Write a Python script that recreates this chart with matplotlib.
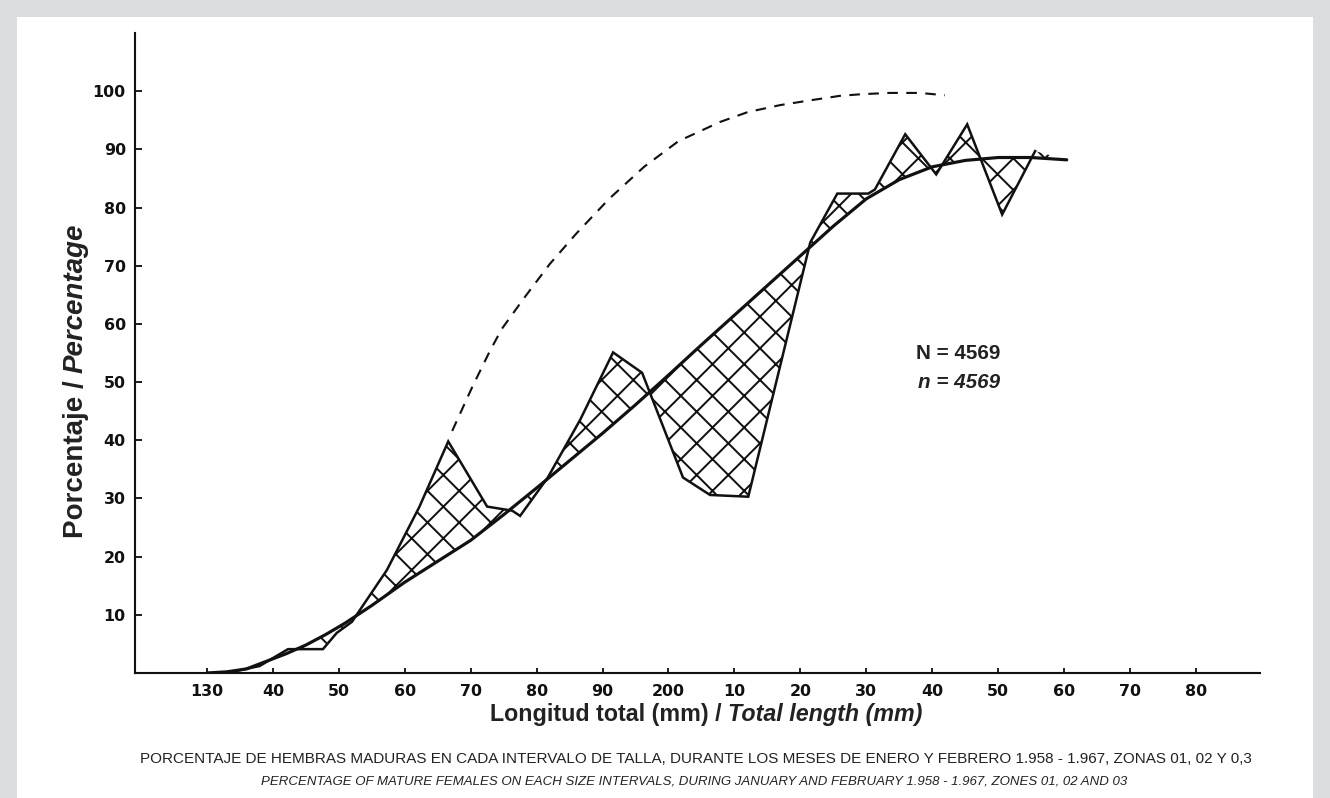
import numpy as np
import matplotlib
matplotlib.use("Agg")
import matplotlib.pyplot as plt
from matplotlib.patches import Rectangle

# observed percentage of mature females (zig-zag line)
obs_x = [133.0, 138.0, 142.3, 147.6, 149.7, 152.0, 157.3, 162.2, 166.6, 172.5, 176.3,
         177.5, 181.7, 186.6, 191.6, 196.0, 202.2, 206.3, 212.1, 221.5, 225.6, 230.3,
         231.3, 235.9, 240.6, 245.3, 250.6, 255.6]
obs_y = [0.0, 1.2, 4.1, 4.1, 6.9, 8.8, 17.7, 28.5, 39.8, 28.6, 27.9,
         27.0, 33.6, 43.5, 55.1, 51.6, 33.6, 30.6, 30.3, 74.0, 82.4, 82.4,
         83.1, 92.6, 85.7, 94.3, 78.8, 89.7]

# fitted curve (solid)
fit_x = [130, 133, 136, 139, 142, 145, 148, 151, 155, 160, 165, 170, 175, 180, 185,
         190, 195, 200, 205, 210, 215, 220, 225, 230, 235, 240, 245, 250, 255, 260.4]
fit_y = [0.0, 0.2, 0.7, 2.0, 3.3, 4.8, 6.6, 8.6, 11.6, 15.6, 19.2, 22.8, 27.2, 31.8, 36.5,
         41.2, 46.1, 51.2, 56.4, 61.5, 66.6, 71.7, 76.8, 81.5, 84.8, 87.0, 88.1, 88.6, 88.6, 88.2]

# dashed curve
dash_x = [167.2, 170.3, 172.9, 174.7, 178.2, 182.0, 186.0, 191.0, 196.3, 201.5, 207.8,
          212.0, 216.9, 221.9, 226.0, 229.5, 233.6, 238.1, 241.9]
dash_y = [41.6, 49.3, 55.3, 59.1, 64.6, 70.3, 75.5, 81.5, 87.0, 91.4, 94.7,
          96.4, 97.6, 98.5, 99.2, 99.5, 99.7, 99.7, 99.3]

x_ticks = list(range(130, 290, 10))
x_labels = ["130", "40", "50", "60", "70", "80", "90", "200",
            "10", "20", "30", "40", "50", "60", "70", "80"]
y_ticks = list(range(10, 110, 10))
y_labels = [str(v) for v in y_ticks]

W, H, DPI = 1330, 798, 190
plt.rcParams["font.family"] = ["Liberation Sans", "DejaVu Sans"]
plt.rcParams["hatch.linewidth"] = 0.75

fig = plt.figure(figsize=(W / DPI, H / DPI), dpi=DPI, facecolor="#dcdde0")
fig.patches.append(Rectangle((17 / W, 0), (1313 - 17) / W, 1 - 17 / H,
                             transform=fig.transFigure, facecolor="white",
                             edgecolor="none", zorder=-10))


def px(x, y):
    return x / W, 1 - y / H


ax = fig.add_axes([135 / W, 1 - 673 / H, (1260 - 135) / W, (673 - 33) / H])
ax.set_facecolor("none")
ax.set_xlim(119.1, 289.7)
ax.set_ylim(0, 110)

# hatched area between observed and fitted curves
ax.fill(np.r_[obs_x, fit_x[::-1]], np.r_[obs_y, fit_y[::-1]],
        facecolor="none", edgecolor="#111111", linewidth=0, hatch="xx")
ax.plot(fit_x, fit_y, color="#111111", lw=1.2, solid_capstyle="round")
ax.plot(obs_x, obs_y, color="#111111", lw=0.95, solid_joinstyle="miter")
ax.plot(dash_x, dash_y, color="#111111", lw=0.8, dashes=(5, 4))

for s in ["top", "right"]:
    ax.spines[s].set_visible(False)
for s in ["left", "bottom"]:
    ax.spines[s].set_linewidth(0.8)
    ax.spines[s].set_color("#111111")

ax.set_xticks(x_ticks)
ax.set_xticklabels(x_labels)
ax.set_yticks(y_ticks)
ax.set_yticklabels(y_labels)
ax.tick_params(axis="both", direction="in", color="#111111", width=0.7,
               labelsize=6, labelcolor="#111111")
ax.tick_params(axis="y", length=2.5, pad=3.5)
ax.tick_params(axis="x", length=2.0, pad=4)
for lab in ax.get_xticklabels() + ax.get_yticklabels():
    lab.set_fontfamily("DejaVu Sans")
    lab.set_fontweight("bold")

renderer = fig.canvas.get_renderer()


def rich(x, y, parts, size, rotation=0):
    # parts: list of (text, style), joined with one space width, centred on (x, y) px
    gap = 0.278 * size * DPI / 72
    texts, sizes = [], []
    for s, style in parts:
        t = fig.text(0, 0, s, fontsize=size, fontweight="bold", fontstyle=style,
                     color="#222222", rotation=rotation,
                     ha="left" if rotation == 0 else "center",
                     va="center" if rotation == 0 else "bottom")
        bb = t.get_window_extent(renderer)
        texts.append(t)
        sizes.append(bb.width if rotation == 0 else bb.height)
    total = sum(sizes) + gap * (len(sizes) - 1)
    pos = 0
    for t, sz in zip(texts, sizes):
        if rotation == 0:
            t.set_position(px(x - total / 2 + pos, y))
        else:
            t.set_position(px(x, y + total / 2 - pos))
        pos += sz + gap


rich(76, 381, [("Porcentaje /", "normal"), ("Percentage", "italic")], 10.5, rotation=90)
rich(706, 715, [("Longitud total (mm) /", "normal"), ("Total length (mm)", "italic")], 8.8)

fig.text(*px(916, 354), "N = 4569", fontsize=7.8, fontweight="bold",
         color="#222222", ha="left", va="center")
fig.text(*px(918, 382), "n = 4569", fontsize=7.8, fontweight="bold",
         fontstyle="italic", color="#222222", ha="left", va="center")

fig.text(*px(696, 759),
         "PORCENTAJE DE HEMBRAS MADURAS EN CADA INTERVALO DE TALLA, DURANTE LOS MESES "
         "DE ENERO Y FEBRERO 1.958 - 1.967, ZONAS 01, 02 Y 0,3",
         fontsize=5.8, color="#222222", ha="center", va="center")
fig.text(*px(694, 782),
         "PERCENTAGE OF MATURE FEMALES ON EACH SIZE INTERVALS, DURING JANUARY AND "
         "FEBRUARY 1.958 - 1.967, ZONES 01, 02 AND 03",
         fontsize=5.0, fontstyle="italic", color="#222222", ha="center", va="center")

fig.savefig("out.png", dpi=DPI, facecolor=fig.get_facecolor())
